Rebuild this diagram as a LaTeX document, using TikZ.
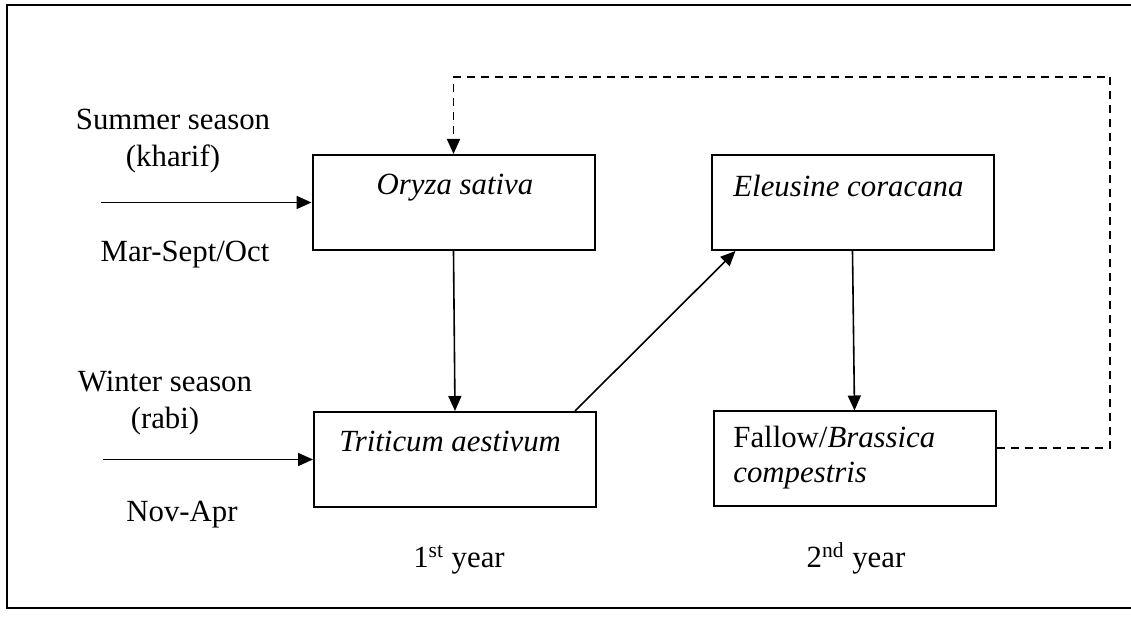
\documentclass[tikz,border=0pt]{standalone}
\usepackage{fontspec}
\setmainfont{Liberation Serif}
\usetikzlibrary{arrows.meta,calc}

\tikzset{
  crop/.style={draw, line width=1pt, minimum width=141pt, minimum height=47.5pt, inner sep=0pt},
  txt/.style={inner sep=0pt, font=\fontsize{15.4}{18.5}\selectfont},
  flow/.style={line width=0.8pt, -{Triangle[length=7.5pt,width=6.5pt]}},
  back/.style={flow, dash pattern=on 4pt off 3pt}
}

\begin{document}
\begin{tikzpicture}[x=0.5pt,y=-0.5pt]
\useasboundingbox (0,0) rectangle (1131,624);
% frame
\draw[line width=0.8pt] (1131,5) -- (7,5) -- (7,608) -- (1131,608);

% crop boxes
\node[crop] (oryza) at (453.5,202.5) {};
\node[crop] (triticum) at (455,459.5) {};
\node[crop] (eleusine) at (852.5,202.5) {};
\node[crop] (fallow) at (854.5,459) {};

\node[txt, anchor=base] (oryzaname) at (455,195) {\textit{Oryza sativa}};
\node[txt, anchor=base west] (triticumname) at (339,452) {\textit{Triticum aestivum}};
\node[txt, anchor=base west] (eleusinename) at (733,197) {\textit{Eleusine coracana}};
\node[txt, anchor=north west, align=left, font=\fontsize{15.4}{17.5}\selectfont] (fallowname) at (733,426) {Fallow/\textit{Brassica}\\\textit{compestris}};

% seasons
\node[txt, anchor=north, align=center] (summer) at (173,109) {Summer season\\(kharif)};
\node[txt, anchor=base] (summermonths) at (185,262) {Mar-Sept/Oct};
\node[txt, anchor=north, align=center] (winter) at (165,371) {Winter season\\(rabi)};
\node[txt, anchor=base] (wintermonths) at (182,522) {Nov-Apr};

% years
\node[txt, anchor=base] (year1) at (459,568) {1\textsuperscript{st} year};
\node[txt, anchor=base] (year2) at (856,568) {2\textsuperscript{nd} year};

% arrows
\coordinate (summerin) at (101,202.5);
\coordinate (winterin) at (103,459.5);
\coordinate (turnright) at (1110,77);
\draw[flow] (summerin) -- (oryza.west);
\draw[flow] (winterin) -- (triticum.west);
\draw[flow] (oryza.south) -- (triticum.north);
\draw[flow] ($(triticum.north east)+(-22,0)$) -- ($(eleusine.south west)+(25,0)$);
\draw[flow] (eleusine.south) -- (fallow.north);
\draw[back] ($(fallow.east)+(0,-11)$) -| (turnright) -| (oryza.north);
\end{tikzpicture}
\end{document}
